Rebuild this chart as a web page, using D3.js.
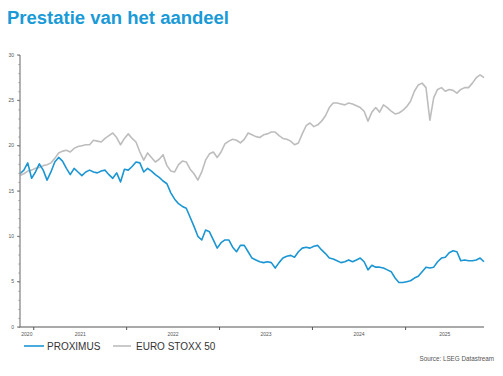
<!DOCTYPE html>
<html>
<head>
<meta charset="utf-8">
<script src="https://cdn.jsdelivr.net/npm/d3@7"></script>
<style>
  body { margin: 0; background: #fff; }
  text { font-family: "Liberation Sans", Arial, sans-serif; }
</style>
</head>
<body>
<script>
// data: semi-monthly readings, Nov 2020 - Nov 2025
var startDate = "2020-11-08";
var endDate = "2025-11-05";

var proximus = [16.9, 17.3, 18.1, 16.4, 17.1, 18.0, 17.3, 16.2, 17.1, 18.2,
  18.7, 18.3, 17.5, 16.8, 17.5, 17.1, 16.7, 17.1, 17.3, 17.1,
  17.0, 17.2, 17.3, 16.8, 16.4, 17.0, 16.0, 17.4, 17.3, 17.7,
  18.2, 18.1, 17.1, 17.5, 17.2, 16.8, 16.5, 16.1, 15.8, 14.8,
  14.1, 13.6, 13.3, 13.1, 12.1, 11.1, 10.0, 9.6, 10.7, 10.5,
  9.6, 8.7, 9.3, 9.6, 9.6, 8.8, 8.3, 9.0, 9.0, 8.3,
  7.6, 7.4, 7.2, 7.1, 7.2, 7.1, 6.5, 7.1, 7.6, 7.8,
  7.9, 7.7, 8.3, 8.7, 8.8, 8.7, 8.9, 9.0, 8.5, 8.1,
  7.6, 7.5, 7.3, 7.1, 7.2, 7.4, 7.2, 7.4, 7.6, 7.2,
  6.3, 6.8, 6.6, 6.6, 6.5, 6.3, 6.1, 5.4, 4.9, 4.9,
  5.0, 5.1, 5.4, 5.6, 6.1, 6.6, 6.5, 6.6, 7.2, 7.6,
  7.7, 8.2, 8.4, 8.3, 7.3, 7.4, 7.3, 7.3, 7.4, 7.6,
  7.2];

var stoxx = [16.7, 16.9, 17.2, 17.3, 17.5, 17.6, 17.8, 17.9, 18.1, 18.6,
  19.2, 19.4, 19.5, 19.3, 19.7, 19.9, 20.0, 20.1, 20.1, 20.6,
  20.5, 20.4, 20.8, 21.1, 21.4, 20.9, 20.1, 20.8, 21.3, 20.8,
  20.4, 19.3, 18.4, 19.2, 18.7, 18.2, 18.5, 19.0, 17.8, 17.2,
  17.1, 17.9, 18.3, 18.2, 17.4, 16.9, 16.2, 17.1, 18.4, 19.1,
  19.3, 18.7, 19.3, 20.2, 20.5, 20.7, 20.6, 20.3, 20.7, 21.4,
  21.2, 21.0, 20.9, 21.2, 21.3, 21.5, 21.5, 21.1, 20.8, 20.7,
  20.5, 20.1, 20.3, 21.3, 22.2, 22.5, 22.1, 22.3, 22.7, 23.3,
  24.2, 24.7, 24.7, 24.6, 24.5, 24.7, 24.6, 24.4, 24.2, 23.8,
  22.7, 23.7, 24.2, 23.7, 24.5, 24.2, 23.8, 23.5, 23.6, 23.9,
  24.3, 24.9, 26.0, 26.7, 26.9, 26.4, 22.8, 25.3, 26.2, 26.4,
  26.0, 26.2, 26.1, 25.8, 26.2, 26.4, 26.4, 26.9, 27.5, 27.8,
  27.5];

var yTicks = [0, 5, 10, 15, 20, 25, 30];
var years = [2020, 2021, 2022, 2023, 2024, 2025];
var seriesNames = ["PROXIMUS", "EURO STOXX 50"];
var seriesColors = ["#1b96d3", "#bdbdbd"];

var W = 503, H = 376;
var margin = {top: 55, right: 19, bottom: 49, left: 20};

var svg = d3.select("body").append("svg")
  .attr("width", W)
  .attr("height", H);

var parse = d3.utcParse("%Y-%m-%d");
var t0 = parse(startDate), t1 = parse(endDate);
var step = (t1 - t0) / (proximus.length - 1);
var dates = proximus.map(function (d, i) { return new Date(+t0 + i * step); });

var x = d3.scaleUtc().domain([t0, t1]).range([margin.left, W - margin.right]);
var y = d3.scaleLinear().domain([0, 30]).range([H - margin.bottom, margin.top]);

// title
svg.append("text")
  .attr("x", 7).attr("y", 24)
  .attr("font-family", "'Open Sans', sans-serif")
  .attr("font-weight", 700)
  .attr("font-size", 18)
  .attr("fill", "#1a9ad6")
  .attr("textLength", 222)
  .attr("lengthAdjust", "spacingAndGlyphs")
  .text("Prestatie van het aandeel");

// lines
var line = d3.line()
  .x(function (d) { return x(d[0]); })
  .y(function (d) { return y(d[1]); });

[stoxx, proximus].forEach(function (s, k) {
  var col = k == 0 ? seriesColors[1] : seriesColors[0];
  svg.append("path")
    .datum(s.map(function (v, i) { return [dates[i], v]; }))
    .attr("fill", "none")
    .attr("stroke", col)
    .attr("stroke-width", 1.6)
    .attr("stroke-linejoin", "round")
    .attr("d", line);
});

// y axis
var yAxisG = svg.append("g")
  .attr("transform", "translate(" + margin.left + ",0)");
yAxisG.call(d3.axisLeft(y).tickValues(d3.range(0, 31, 1)).tickSize(1.5).tickFormat(""))
  .call(function (g) { g.select(".domain").remove(); });
yAxisG.selectAll(".tick line").attr("stroke", "#888");
yAxisG.append("line")
  .attr("y1", y(30)).attr("y2", y(0))
  .attr("stroke", "#999").attr("stroke-width", 1.5);
yAxisG.selectAll(".major").data(yTicks).enter().append("line")
  .attr("x1", -3).attr("x2", 0)
  .attr("y1", function (d) { return y(d); }).attr("y2", function (d) { return y(d); })
  .attr("stroke", "#777");
yAxisG.selectAll(".lbl").data(yTicks).enter().append("text")
  .attr("x", -6).attr("y", function (d) { return y(d) + 1.8; })
  .attr("text-anchor", "end")
  .attr("font-size", 5)
  .attr("fill", "#555")
  .text(function (d) { return d; });

// x axis
var xAxisY = y(0);
svg.append("line")
  .attr("x1", margin.left).attr("x2", W - margin.right)
  .attr("y1", xAxisY).attr("y2", xAxisY)
  .attr("stroke", "#555").attr("stroke-width", 1);

var bounds = years.slice(1).map(function (yr) { return parse(yr + "-01-01"); });
svg.selectAll(".yt").data(bounds).enter().append("line")
  .attr("x1", function (d) { return x(d); }).attr("x2", function (d) { return x(d); })
  .attr("y1", xAxisY).attr("y2", xAxisY + 3)
  .attr("stroke", "#555");

svg.selectAll(".yl").data(years).enter().append("text")
  .attr("x", function (yr) {
    var a = Math.max(+parse(yr + "-01-01"), +t0);
    var b = Math.min(+parse((yr + 1) + "-01-01"), +t1);
    return x(new Date((a + b) / 2));
  })
  .attr("y", xAxisY + 9)
  .attr("text-anchor", "middle")
  .attr("font-size", 5)
  .attr("fill", "#555")
  .text(function (d) { return d; });

// legend
var leg = [[24, 44, 47], [113, 131, 136]];
seriesNames.forEach(function (n, i) {
  svg.append("line")
    .attr("x1", leg[i][0]).attr("x2", leg[i][1])
    .attr("y1", 346).attr("y2", 346)
    .attr("stroke", seriesColors[i]).attr("stroke-width", 1.6);
  svg.append("text")
    .attr("x", leg[i][2]).attr("y", 349.5)
    .attr("font-size", 10)
    .attr("fill", "#333")
    .text(n);
});

// source
svg.append("text")
  .attr("x", 494).attr("y", 361)
  .attr("text-anchor", "end")
  .attr("font-size", 6.3)
  .attr("fill", "#555")
  .text("Source: LSEG Datastream");
</script>
</body>
</html>
